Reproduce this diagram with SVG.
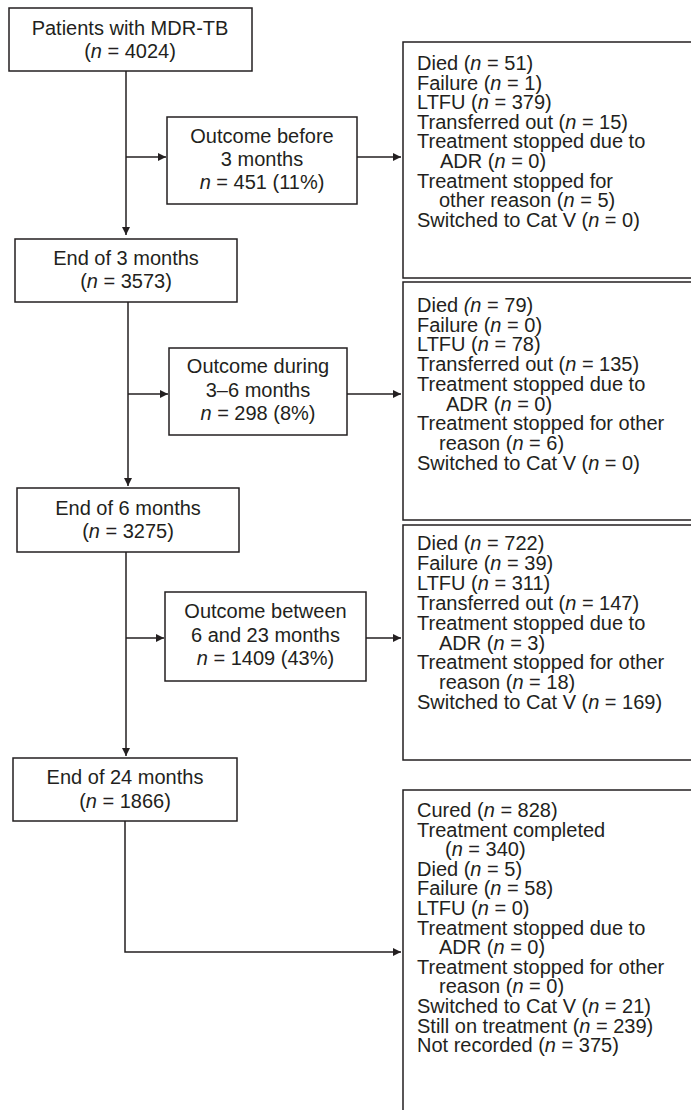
<svg xmlns="http://www.w3.org/2000/svg" width="691" height="1110" viewBox="0 0 691 1110">
<style>
.box{fill:#fff;stroke:#231f20;stroke-width:1.5}
.ln{fill:none;stroke:#231f20;stroke-width:1.5}
text{font-family:"Liberation Sans",Arial,sans-serif;font-size:20px;fill:#231f20}
.c{text-anchor:middle}
.i{font-style:italic}
</style>
<defs>
<marker id="ah" viewBox="0 0 10 10" refX="10" refY="5" markerWidth="9" markerHeight="8" markerUnits="userSpaceOnUse" orient="auto">
<path d="M0,0 L10,5 L0,10 z" fill="#231f20"/>
</marker>
</defs>
<g id="connectors">
<path class="ln" d="M126,71 V235" marker-end="url(#ah)"/>
<path class="ln" d="M126,157 H166" marker-end="url(#ah)"/>
<path class="ln" d="M357,157 H401" marker-end="url(#ah)"/>
<path class="ln" d="M128,302 V486" marker-end="url(#ah)"/>
<path class="ln" d="M128,394 H168" marker-end="url(#ah)"/>
<path class="ln" d="M347,394 H401" marker-end="url(#ah)"/>
<path class="ln" d="M126,552 V756" marker-end="url(#ah)"/>
<path class="ln" d="M126,638 H164" marker-end="url(#ah)"/>
<path class="ln" d="M366,638 H401" marker-end="url(#ah)"/>
<path class="ln" d="M125,821 V952 H401" marker-end="url(#ah)"/>
</g>
<g id="n_start">
<rect class="box" x="9" y="8" width="243" height="63"/>
<text class="c" x="130" y="35">Patients with MDR-TB</text>
<text class="c" x="130" y="58">(<tspan class="i">n</tspan> = 4024)</text>
</g>
<g id="n_out3">
<rect class="box" x="167" y="117" width="190" height="87"/>
<text class="c" x="262" y="143">Outcome before</text>
<text class="c" x="262" y="166">3 months</text>
<text class="c" x="262" y="189"><tspan class="i">n</tspan> = 451 (11%)</text>
</g>
<g id="n_det3">
<rect class="box" x="403" y="42" width="300" height="236"/>
<text x="417" y="70">Died (<tspan class="i">n</tspan> = 51)</text>
<text x="417" y="89.6">Failure (<tspan class="i">n</tspan> = 1)</text>
<text x="417" y="109.2">LTFU (<tspan class="i">n</tspan> = 379)</text>
<text x="417" y="128.8">Transferred out (<tspan class="i">n</tspan> = 15)</text>
<text x="417" y="148.4">Treatment stopped due to</text>
<text x="440" y="168">ADR (<tspan class="i">n</tspan> = 0)</text>
<text x="417" y="187.6">Treatment stopped for</text>
<text x="439" y="207.2">other reason (<tspan class="i">n</tspan> = 5)</text>
<text x="417" y="226.8">Switched to Cat V (<tspan class="i">n</tspan> = 0)</text>
</g>
<g id="n_end3">
<rect class="box" x="15" y="239" width="222" height="63"/>
<text class="c" x="126" y="265">End of 3 months</text>
<text class="c" x="126" y="288">(<tspan class="i">n</tspan> = 3573)</text>
</g>
<g id="n_out6">
<rect class="box" x="169" y="348" width="178" height="87"/>
<text class="c" x="258" y="373">Outcome during</text>
<text class="c" x="258" y="397">3–6 months</text>
<text class="c" x="258" y="420"><tspan class="i">n</tspan> = 298 (8%)</text>
</g>
<g id="n_det6">
<rect class="box" x="403" y="282" width="300" height="238"/>
<text x="417" y="312">Died <tspan class="i">(n</tspan> = 79)</text>
<text x="417" y="331.7">Failure (<tspan class="i">n</tspan> = 0)</text>
<text x="417" y="351.4">LTFU (<tspan class="i">n</tspan> = 78)</text>
<text x="417" y="371.1">Transferred out (<tspan class="i">n</tspan> = 135)</text>
<text x="417" y="390.8">Treatment stopped due to</text>
<text x="446" y="410.5">ADR (<tspan class="i">n</tspan> = 0)</text>
<text x="417" y="430.2">Treatment stopped for other</text>
<text x="439" y="449.9">reason (<tspan class="i">n</tspan> = 6)</text>
<text x="417" y="469.6">Switched to Cat V (<tspan class="i">n</tspan> = 0)</text>
</g>
<g id="n_end6">
<rect class="box" x="17" y="488" width="222" height="64"/>
<text class="c" x="128" y="515">End of 6 months</text>
<text class="c" x="128" y="538">(<tspan class="i">n</tspan> = 3275)</text>
</g>
<g id="n_out23">
<rect class="box" x="165" y="592" width="201" height="89"/>
<text class="c" x="265.5" y="618">Outcome between</text>
<text class="c" x="265.5" y="642">6 and 23 months</text>
<text class="c" x="265.5" y="665"><tspan class="i">n</tspan> = 1409 (43%)</text>
</g>
<g id="n_det23">
<rect class="box" x="403" y="525" width="300" height="235"/>
<text x="417" y="550">Died (<tspan class="i">n</tspan> = 722)</text>
<text x="417" y="569.9">Failure (<tspan class="i">n</tspan> = 39)</text>
<text x="417" y="589.8">LTFU (<tspan class="i">n</tspan> = 311)</text>
<text x="417" y="609.7">Transferred out (<tspan class="i">n</tspan> = 147)</text>
<text x="417" y="629.6">Treatment stopped due to</text>
<text x="439" y="649.5">ADR (<tspan class="i">n</tspan> = 3)</text>
<text x="417" y="669.4">Treatment stopped for other</text>
<text x="439" y="689.3">reason (<tspan class="i">n</tspan> = 18)</text>
<text x="417" y="709.2">Switched to Cat V (<tspan class="i">n</tspan> = 169)</text>
</g>
<g id="n_end24">
<rect class="box" x="13" y="758" width="224" height="63"/>
<text class="c" x="125" y="784">End of 24 months</text>
<text class="c" x="125" y="808">(<tspan class="i">n</tspan> = 1866)</text>
</g>
<g id="n_det24">
<rect class="box" x="403" y="790" width="300" height="340"/>
<text x="417" y="817">Cured (<tspan class="i">n</tspan> = 828)</text>
<text x="417" y="836.6">Treatment completed</text>
<text x="445" y="856.2">(<tspan class="i">n</tspan> = 340)</text>
<text x="417" y="875.8">Died (<tspan class="i">n</tspan> = 5)</text>
<text x="417" y="895.4">Failure (<tspan class="i">n</tspan> = 58)</text>
<text x="417" y="915">LTFU (<tspan class="i">n</tspan> = 0)</text>
<text x="417" y="934.6">Treatment stopped due to</text>
<text x="439" y="954.2">ADR (<tspan class="i">n</tspan> = 0)</text>
<text x="417" y="973.8">Treatment stopped for other</text>
<text x="439" y="993.4">reason (<tspan class="i">n</tspan> = 0)</text>
<text x="417" y="1013">Switched to Cat V (<tspan class="i">n</tspan> = 21)</text>
<text x="417" y="1032.6">Still on treatment (<tspan class="i">n</tspan> = 239)</text>
<text x="417" y="1052.2">Not recorded (<tspan class="i">n</tspan> = 375)</text>
</g>
</svg>
